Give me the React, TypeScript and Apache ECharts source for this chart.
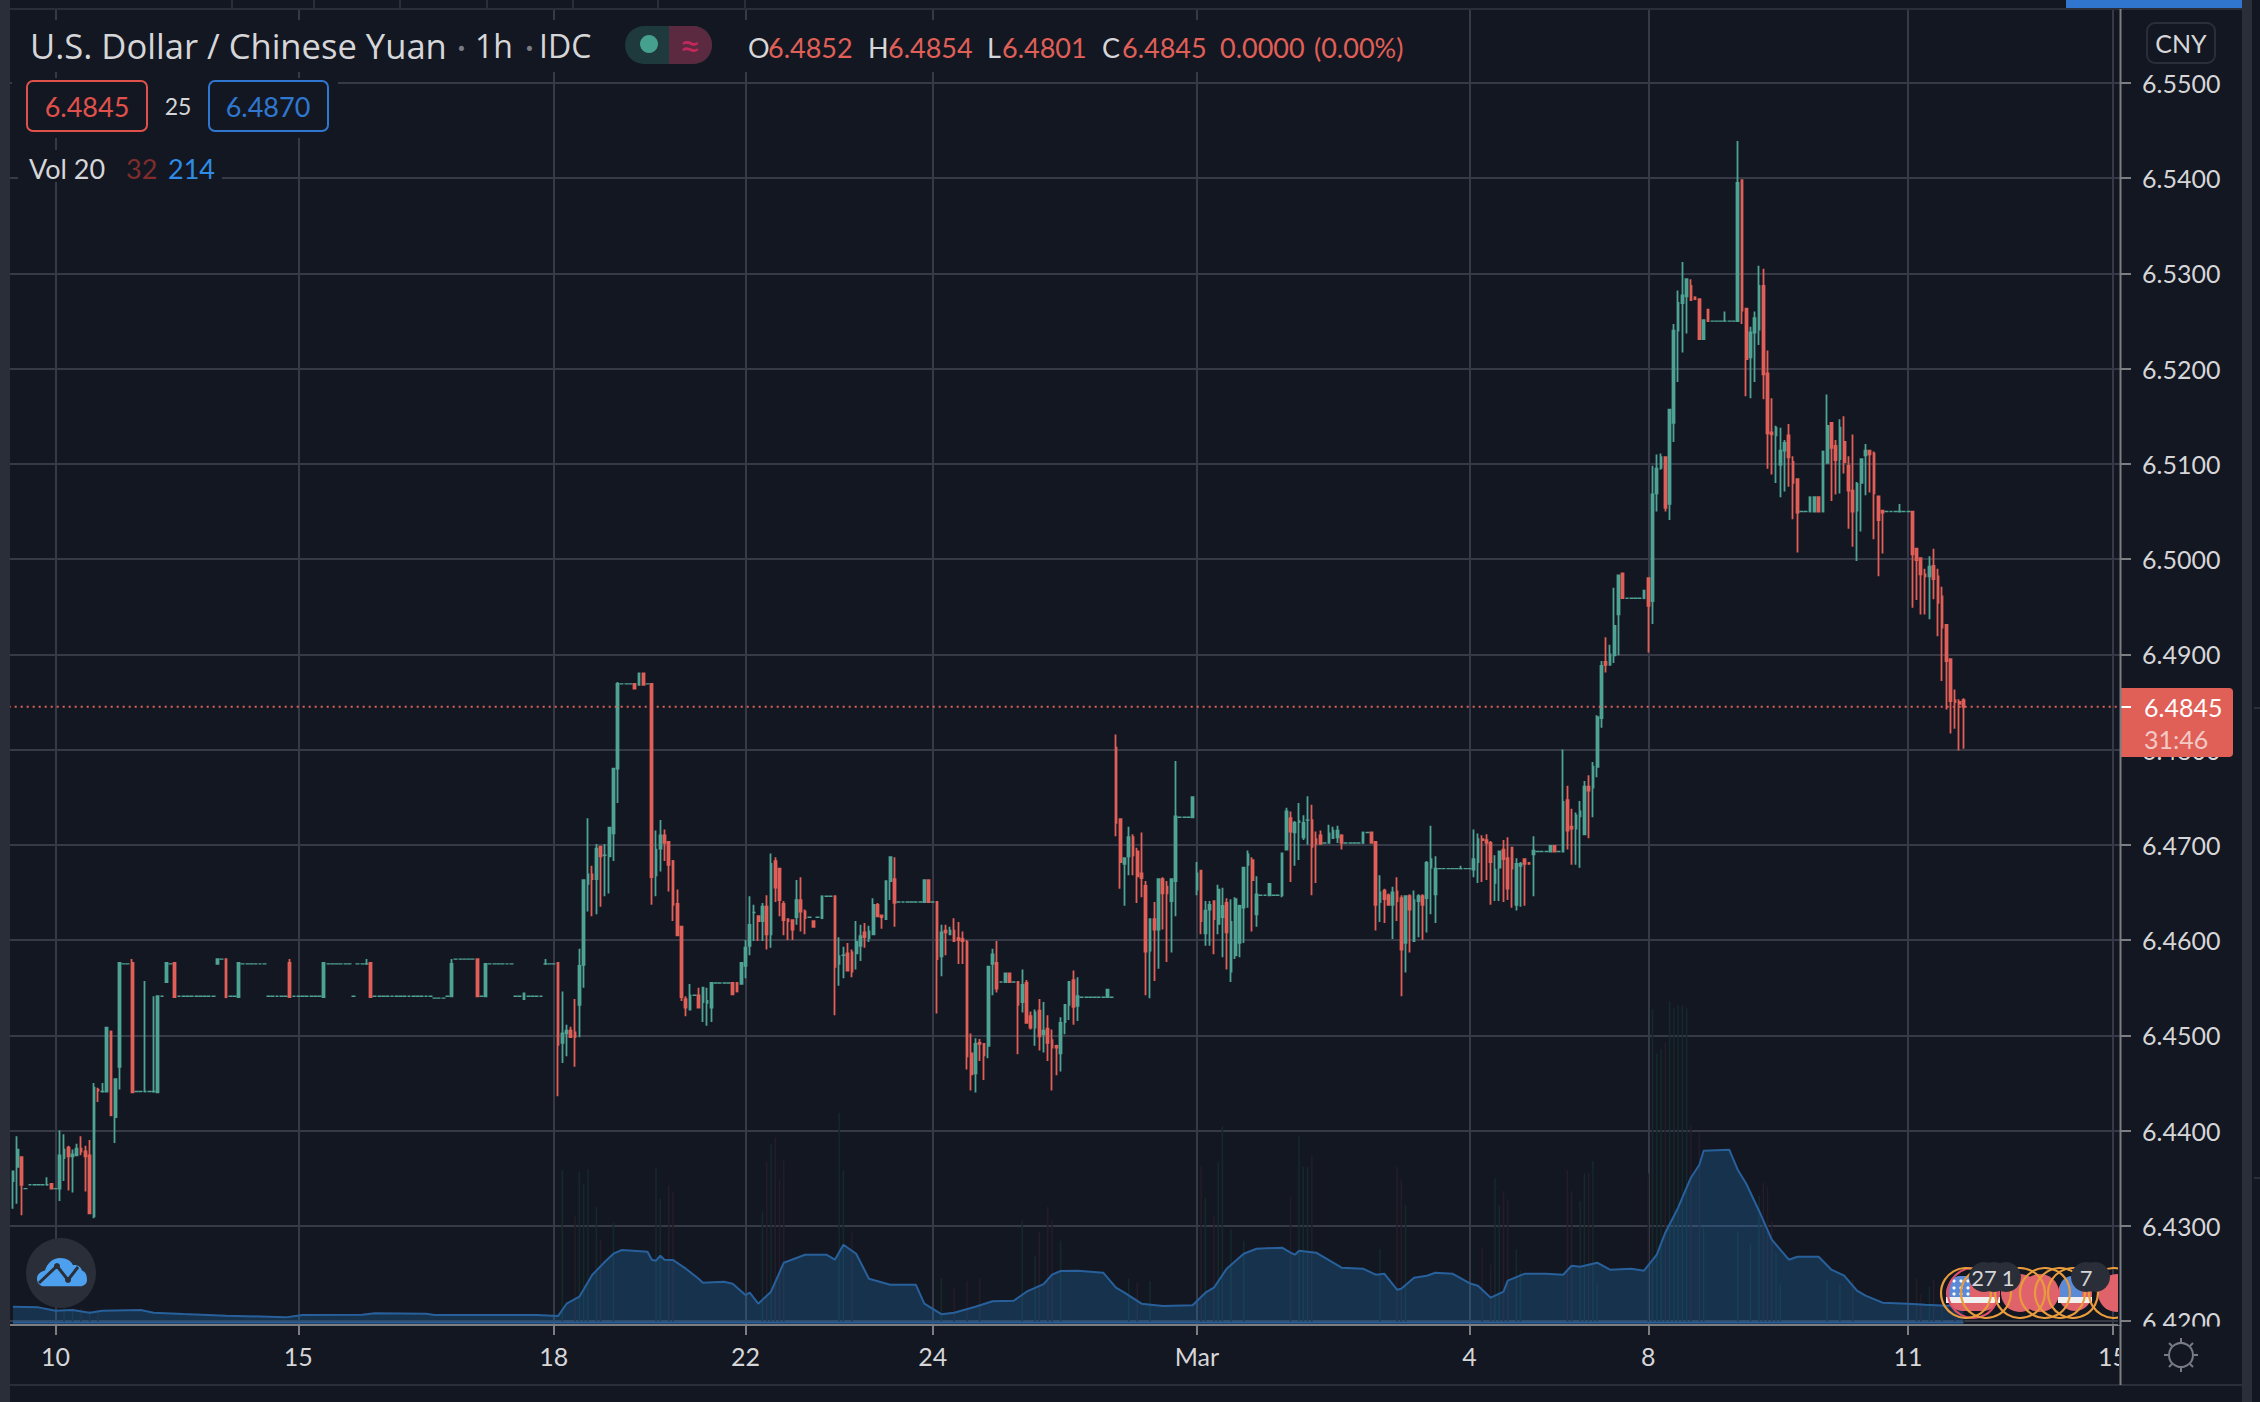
import React, { useEffect, useRef } from "react";
import * as echarts from "echarts";

// Bars are [open, close, low, high] in 1/10000 above 6; a lone number is a bar with no range.
type Bar = number | number[];

const barsBefore10: Bar[] = [[4347,4357,4318,4357],[4362,4380,4323,4394],[4372,4343,4311,4372],4339,4343,4343,4343,4343,[4343,4343,4343,4351],[4344,4339,4339,4344]];

const barsFrom10: Bar[] = [4339,[4339,4374,4326,4400],[4371,4380,4347,4396],[4382,4373,4337,4384],[4373,4375,4335,4380],[4374,4381,4374,4386],[4381,4378,4374,4394],[4378,4373,4336,4384],[4374,4313,4313,4390],[4310,4445,4308,4450],[4443,4442,4430,4445],[4441,4441,4441,4450],[4441,4508,4441,4508],[4504,4416,4416,4504],[4414,4454,4387,4454],[4467,4576,4443,4576],4575,4575,[4576,4440,4440,4580],4441,4441,[4441,4441,4441,4557],4441,[4441,4441,4441,4541],[4440,4541,4440,4541],4541,[4556,4576,4556,4576],4575,[4576,4540,4540,4576],4541,4541,4541,4541,4541,4541,4541,4541,4541,[4575,4580,4575,4580],4580,[4580,4540,4540,4580],4541,4541,[4540,4576,4540,4576],4575,4575,4575,4575,4575,4575,4541,4541,4541,4541,4541,[4576,4540,4540,4580],4541];

const barsFrom15: Bar[] = [4541,4541,4541,4541,4541,4541,[4540,4576,4540,4576],4575,4575,4575,4575,4575,4575,4541,4575,4575,[4575,4575,4575,4580],[4576,4540,4540,4576],4541,4541,4541,4541,4541,4541,4541,4541,4541,4541,4541,4541,4541,4541,4539,4539,4539,4541,[4541,4575,4541,4580],4580,4580,4580,4580,4580,[4580,4541,4541,4580],4541,[4541,4575,4541,4575],4575,4575,4575,4575,4575,4575,4541,4541,[4538,4544,4538,4544],4541,4541,4541,4541,[4575,4575,4575,4580],4575];

const barsFrom18: Bar[] = [4575,[4576,4490,4436,4576],[4492,4502,4471,4546],[4502,4505,4478,4511],[4505,4498,4498,4509],[4503,4498,4467,4538],[4532,4573,4498,4591],[4574,4663,4550,4663],[4659,4669,4630,4728],[4669,4664,4625,4678],[4664,4696,4627,4701],[4698,4688,4635,4698],[4689,4689,4646,4701],[4688,4718,4649,4719],[4712,4780,4683,4780],[4780,4869,4744,4871],4869,4869,4869,[4869,4864,4864,4869],[4868,4880,4868,4880],[4880,4868,4868,4880],4869,[4869,4666,4637,4869],[4668,4695,4646,4715],[4696,4710,4672,4726],[4710,4702,4683,4716],[4703,4679,4651,4703],[4683,4637,4620,4684],[4638,4605,4605,4653],[4614,4540,4536,4614],[4538,4529,4520,4541],[4527,4542,4527,4554],4542,[4542,4529,4529,4550],[4535,4550,4514,4550],[4534,4536,4510,4550],[4529,4555,4514,4555],4555,4555,4555,4555,[4555,4543,4543,4555],[4555,4546,4546,4555],[4554,4576,4554,4576]];

const barsFrom22: Bar[] = [[4573,4592,4560,4600],[4594,4616,4584,4646],[4629,4629,4599,4637],[4625,4620,4599,4625],[4620,4635,4599,4639],[4635,4606,4590,4647],[4606,4680,4592,4691],[4683,4655,4640,4687],[4675,4642,4625,4675],[4638,4621,4605,4641],[4622,4620,4600,4623],[4621,4611,4600,4621],[4624,4642,4616,4663],[4642,4630,4609,4666],[4630,4623,4606,4632],4624,[4620,4614,4614,4620],4624,[4623,4646,4623,4646],4646,4646,[4646,4572,4521,4646],[4575,4583,4552,4603],[4584,4584,4560,4593],[4586,4568,4568,4597],[4587,4567,4561,4590],[4586,4598,4569,4620],[4594,4604,4578,4616],[4608,4603,4592,4618],[4602,4609,4598,4615],[4606,4637,4606,4644],[4637,4625,4625,4639],[4626,4624,4612,4626],[4622,4662,4621,4662],[4662,4687,4642,4687],[4664,4639,4614,4687],4640,4640,4640,4640,4640,4640,[4640,4663,4640,4663],[4663,4640,4640,4663]];

const barsFrom24: Bar[] = [4640,[4640,4580,4523,4640],[4583,4608,4562,4616],[4610,4608,4584,4616],[4606,4610,4606,4614],[4610,4599,4599,4623],[4602,4600,4575,4619],[4601,4599,4575,4609],[4598,4478,4464,4600],[4481,4459,4442,4502],[4460,4491,4440,4497],[4492,4491,4473,4496],[4491,4479,4453,4492],[4489,4572,4476,4573],[4575,4585,4542,4591],[4576,4549,4545,4599],4556,[4556,4565,4556,4565],[4565,4556,4556,4565],4556,[4556,4532,4480,4556],[4535,4553,4524,4569],[4555,4513,4513,4558],[4520,4508,4506,4525],[4508,4524,4489,4527],[4526,4499,4484,4538],[4501,4505,4482,4535],[4507,4492,4473,4521],[4495,4487,4442,4506],[4489,4487,4458,4490],[4481,4513,4462,4519],[4514,4532,4501,4533],[4532,4556,4516,4556],[4558,4530,4511,4568],[4531,4541,4515,4561],4540,4540,4540,4540,4540,4540,[4540,4548,4540,4548],4540,[4802,4723,4709,4816],[4727,4682,4654,4727],[4680,4686,4636,4686],[4688,4708,4668,4719],[4708,4689,4668,4711],[4693,4667,4639,4697],[4670,4665,4645,4713],[4657,4588,4542,4662],[4589,4622,4539,4622],[4622,4611,4557,4640],[4611,4664,4570,4664],[4664,4649,4611,4666],[4656,4649,4577,4662],[4641,4664,4587,4664],[4662,4730,4625,4788],4729,4729,4729,[4729,4750,4729,4750]];

const barsFromMar: Bar[] = [[4653,4670,4647,4682],[4673,4620,4606,4673],[4607,4631,4594,4641],[4632,4637,4594,4641],[4641,4622,4585,4641],[4617,4653,4606,4658],[4624,4636,4582,4655],[4639,4608,4569,4644],[4567,4619,4556,4643],[4584,4643,4580,4645],[4597,4636,4582,4637],[4634,4676,4597,4677],[4679,4690,4634,4694],[4684,4663,4609,4687],[4627,4648,4614,4667],4647,4647,[4647,4659,4647,4659],4647,4647,[4647,4691,4645,4691],[4695,4735,4695,4739],[4728,4714,4661,4735],[4713,4723,4678,4725],[4724,4725,4684,4744],[4708,4723,4705,4731],[4726,4726,4700,4751],[4726,4698,4647,4742],[4706,4701,4660,4714],[4710,4701,4701,4715],4702,[4702,4712,4702,4721],[4707,4715,4707,4719],[4708,4715,4702,4720],[4710,4702,4695,4711],4702,4702,4702,4702,[4702,4713,4702,4713],4713,[4713,4702,4702,4713],[4703,4637,4610,4703],[4640,4650,4619,4668],[4652,4643,4618,4654],[4647,4637,4637,4649],[4637,4650,4601,4656],[4651,4641,4620,4666],[4644,4590,4541,4647],[4597,4646,4566,4647],[4646,4632,4587,4648],[4599,4642,4598,4652],[4641,4646,4603,4648],[4646,4637,4600,4648],[4644,4681,4608,4683],[4676,4685,4627,4720],[4648,4675,4618,4688],4675,4675,4675,4675,4675,[4675,4675,4675,4678],4675];

const barsFrom4: Bar[] = [4675,[4674,4685,4666,4716],[4682,4706,4660,4712],[4706,4705,4661,4710],[4705,4702,4663,4711],[4702,4682,4637,4704],[4660,4674,4641,4689],[4676,4693,4641,4694],[4695,4685,4640,4705],[4686,4654,4642,4708],[4697,4675,4634,4697],[4637,4680,4631,4686],[4678,4680,4635,4682],[4685,4680,4636,4686],[4681,4680,4680,4681],[4690,4694,4646,4709],4693,4693,4693,[4693,4699,4693,4699],[4699,4693,4693,4699],4693,[4693,4745,4693,4800],[4747,4715,4695,4762],[4719,4717,4679,4738],[4717,4731,4679,4734],[4730,4735,4676,4746],[4711,4761,4711,4767],[4761,4757,4707,4773],[4760,4782,4729,4787],[4782,4834,4771,4836],[4833,4888,4823,4893],[4892,4889,4881,4918],[4889,4900,4889,4910],[4899,4930,4891,4970],[4942,4983,4899,4983],[4985,4959,4959,4985],4959,4959,4959,4959,[4959,4967,4959,4967]];

const barsFrom8: Bar[] = [[4980,4951,4902,4980],[4956,5068,4932,5098],[5069,5095,5050,5110],[5096,5107,5094,5111],[5107,5054,5050,5107],[5058,5157,5041,5157],[5143,5240,5123,5247],[5240,5269,5186,5282],[5269,5277,5217,5312],[5276,5294,5237,5295],[5287,5272,5272,5294],[5275,5273,5273,5275],[5273,5231,5231,5273],[5231,5251,5231,5251],[5262,5250,5250,5262],5250,5250,5250,[5250,5250,5250,5260],5250,5250,[5250,5395,5250,5439],[5398,5261,5247,5398],[5263,5210,5171,5263],[5212,5238,5169,5244],[5238,5253,5186,5260],[5241,5287,5225,5308],[5287,5194,5168,5305],[5195,5132,5095,5219],[5133,5131,5089,5169],[5130,5138,5080,5140],[5099,5114,5065,5138],[5114,5122,5071,5125],[5130,5107,5076,5142],[5102,5080,5042,5108],[5084,5049,5007,5085],5050,5050,[5050,5065,5050,5065],[5050,5065,5050,5065],[5065,5050,5050,5065],[5050,5113,5050,5113],[5101,5140,5101,5173],[5143,5117,5061,5143],[5119,5104,5068,5125],[5105,5138,5069,5147],[5123,5102,5090,5150],[5098,5072,5032,5108],[5072,5050,5013,5131],[5051,5079,4998,5081],[5080,5105,5029,5105],[5109,5114,5067,5121],[5114,5110,5070,5114],[5111,5069,5021,5113],[5066,5041,4982,5066],[5051,5049,5006,5052],5050,5050,5050,[5050,5050,5050,5058],5050];

const barsFrom11: Bar[] = [5050,[5050,5005,4949,5050],[5011,4999,4957,5011],[5001,4984,4942,5001],[4984,4982,4942,4990],[4982,4992,4937,5003],[4993,4979,4958,5011],[4982,4954,4919,4990],[4961,4928,4872,4971],[4931,4893,4842,4931],[4895,4851,4817,4895],[4852,4850,4822,4863],[4850,4848,4799,4853],[4852,4845,4801,4854]];

const tickLabels = ["", "10", "15", "18", "22", "24", "Mar", "4", "8", "11"];
const futureTickLabel = "15";

const LAST_PRICE = 6.4845;
const priceLabels = { last: "6.4845", countdown: "31:46", bid: "6.4845", spread: "25", ask: "6.4870" };

// Volume moving average, read at its turning points: hour number and value.
const maHours = [0,6,10,14,18,21,30,33,40,50,60,64,68,82,85,97,99,123,128,130,133,136,139,141,143,149,150,151,152,153,155,158,161,162,167,169,172,173,175,178,181,186,191,193,195,198,201,206,212,214,218,221,226,230,235,238,242,244,246,250,256,259,261,265,270,277,280,282,285,289,292,298,300,301,302,306,312,317,320,322,325,326,329,332,334,338,342,344,347,350,351,355,360,364,366,368,372,375,380,383,386,388,391,394,396,397,403,405,407,410,413,415,417,419,424,427,430,433,435,439,445,449,454,458];
const maValues = [192,184,144,152,120,144,152,120,104,84,72,64,92,96,112,108,92,92,80,228,312,572,732,828,872,852,756,744,804,756,752,648,528,480,492,468,332,360,228,372,720,816,816,756,936,828,528,456,456,228,102,120,192,258,264,372,462,576,620,624,600,420,360,228,200,210,360,420,648,828,888,900,840,816,864,840,660,648,576,588,396,408,540,564,600,588,474,444,300,372,504,588,588,576,684,672,720,636,648,624,816,1080,1380,1740,1896,2064,2076,1836,1668,1344,996,876,756,792,792,636,564,384,324,240,228,216,204,214];

// Volume bars that can be told apart from the background: hour number and value.
const volumeHours = [12,14,16,18,20,129,132,133,134,135,137,138,141,151,152,154,155,176,177,178,179,180,181,194,195,197,218,221,224,227,237,240,241,243,244,246,262,264,267,279,280,282,283,284,286,289,300,302,303,304,305,321,325,326,327,345,347,348,349,350,351,353,354,365,366,368,369,370,371,372,384,385,386,387,388,389,390,391,392,393,394,396,397,405,408,410,411,412,413,414,415,426,429,432,447,448,450,451,453,456,458];
const volumeValues = [190,170,180,150,170,1830,1290,1810,1670,1840,1390,1000,1200,1850,1490,1650,1570,1335,1925,2140,2220,1710,1950,2520,1830,1090,530,420,500,530,1225,800,1090,1390,1225,985,530,480,500,1870,1500,1280,1925,2360,1120,985,1520,2250,1870,1870,2010,880,1870,1710,1415,900,700,1730,1410,1580,1480,880,630,1830,1580,1460,1790,1800,1940,460,1790,3760,3230,3280,3360,3860,3770,3810,3810,3770,2370,2280,1140,1100,940,1520,1680,1630,1220,840,460,520,470,520,530,340,430,520,420,560,32];

const BG = "#131722";
const GRID = "#363a47";
const UP = "#4fa394";
const DOWN = "#e05f57";
const TEXT = "#d6d6d8";
const BAND = "#2a2e39";
const FONT = "Lato";

const LEFT = 8.7;
const SLOTS = 497;
const PLOT_W = 2112.3;
const FUTURE_TICK = 494;

const segments = [barsBefore10, barsFrom10, barsFrom15, barsFrom18, barsFrom22, barsFrom24, barsFromMar, barsFrom4, barsFrom8, barsFrom11];

echarts.graphic.registerShape(
  "tvCloud",
  echarts.graphic.extendPath(
    "M8 40 C2 40 0 35 0 30 C0 25 4 21 8 20 C10 11 16 4 23 4 C30 4 34 8 36 13 C40 12 44 15 45 20 C49 22 50 27 50 32 C50 37 47 40 43 40 Z",
    {}
  )
);

function App() {
  const ref = useRef<HTMLDivElement>(null);

  useEffect(() => {
    document.body.style.margin = "0";
    document.body.style.background = BG;
    const chart = echarts.init(ref.current!, undefined, { renderer: "svg" });

    const blank = ["-", "-", "-", "-"];
    const categories: string[] = ["."];
    const dirs: number[] = [0];
    const ohlc: any[] = [blank];
    const flats: any[] = [blank];
    const ticks = new Set<number>();
    segments.forEach((seg, s) => {
      seg.forEach((b, j) => {
        const bar = typeof b === "number" ? [b, b, b, b] : b;
        const price = bar.map((v) => (v + 60000) / 10000);
        const idx = categories.length;
        if (j === 0 && tickLabels[s]) ticks.add(idx);
        categories.push(j === 0 && tickLabels[s] ? tickLabels[s] : String(idx));
        const ranged = bar[0] !== bar[1] || bar[2] !== bar[3];
        ohlc.push(ranged ? price : blank);
        flats.push(bar[0] === bar[1] ? [price[0], price[0], price[0], price[0]] : blank);
        dirs.push(bar[1] >= bar[0] ? 1 : -1);
      });
    });
    while (categories.length < SLOTS) {
      const idx = categories.length;
      categories.push(idx === FUTURE_TICK ? futureTickLabel : String(idx));
    }
    ticks.add(FUTURE_TICK);
    const isTick = (i: number) => ticks.has(i);

    const volData = volumeHours.map((h, i) => ({
      value: [h + 1, volumeValues[i]],
      itemStyle: { color: dirs[h + 1] >= 0 ? "#15282a" : "#241c26" },
    }));
    const maData = maHours.map((h, i) => [h + 1, maValues[i]]);
    const lastHour = maHours[maHours.length - 1] + 1;

    const hiddenX = (gridIndex: number) => ({
      type: "category" as const, gridIndex, data: categories, boundaryGap: false, show: false,
    });

    const t = (text: string, x: number, y: number, size: number, fill: string, extra: any = {}) => ({
      type: "text", z: extra.z ?? 100, x, y,
      style: { text, fill, font: `${size}px ${extra.font || FONT}`, textAlign: extra.align || "left", textVerticalAlign: "middle" },
    });
    const r = (x: number, y: number, width: number, height: number, fill: string, radius: any = 0, stroke?: string, lineWidth = 2, z = 100) => ({
      type: "rect", z, shape: { x, y, width, height, r: radius },
      style: { fill, stroke, lineWidth },
    });
    const c = (cx: number, cy: number, rad: number, fill: string, z = 100, stroke?: string, lineWidth = 2) => ({
      type: "circle", z, shape: { cx, cy, r: rad }, style: { fill, stroke, lineWidth },
    });
    const l = (x1: number, y1: number, x2: number, y2: number, stroke: string, lineWidth = 2, z = 100) => ({
      type: "line", z, shape: { x1, y1, x2, y2 }, style: { stroke, lineWidth },
    });

    const gearSpokes: any[] = [[0, -17, 0, -13], [0, 13, 0, 17], [-17, 0, -13, 0], [13, 0, 17, 0], [-12, -12, -9, -9], [9, 9, 12, 12], [-12, 12, -9, 9], [9, -9, 12, -12]]
      .map(([a, b, p, q]) => l(2181 + a, 1355 + b, 2181 + p, 1355 + q, "#787b86"));

    const topSeparators = [231, 313, 399, 486, 572, 657, 744].map((x) => r(x, 0, 2, 8, BAND));

    const usFlag = (x0: number, width: number) => [
      { type: "rect", z: 101, shape: { x: x0, y: 1276, width, height: 35, r: 17 }, style: { fill: "#e0636b" } },
      { type: "rect", z: 101, shape: { x: x0, y: 1297, width, height: 6 }, style: { fill: "#f0f0f0" } },
      { type: "rect", z: 101, shape: { x: x0 + 2, y: 1276, width: 22, height: 21, r: [12, 0, 0, 0] }, style: { fill: "#5b8ad6" } },
    ];
    const dots: any[] = [];
    [1954, 1961, 1968].forEach((x) => [1281, 1288, 1294].forEach((y) => dots.push({ type: "circle", z: 102, shape: { cx: x, cy: y, r: 1.6 }, style: { fill: "#fff" } })));

    const rings = [1966, 1986, 2020, 2045, 2060, 2073, 2114].map((x) => ({
      type: "circle", z: 103, shape: { cx: x, cy: 1293, r: 25 }, style: { fill: "none", stroke: "#e89c3c", lineWidth: 2.2 },
    }));

    chart.setOption({
      animation: false,
      backgroundColor: BG,
      textStyle: { fontFamily: FONT },
      grid: [
        { left: LEFT, width: PLOT_W, top: 9, height: 1316 },
        { left: LEFT, width: PLOT_W, top: 83, height: 1238 },
        { left: LEFT, width: PLOT_W, top: 997.7, height: 325 },
      ],
      xAxis: [
        {
          type: "category", gridIndex: 0, data: categories, boundaryGap: false,
          axisLine: { lineStyle: { color: "#7d7e82", width: 2 } },
          axisTick: { show: true, interval: (i: number) => isTick(i), length: 10, lineStyle: { color: "#7d7e82", width: 2 } },
          splitLine: { show: true, interval: (i: number) => isTick(i), lineStyle: { color: GRID, width: 2 } },
          axisLabel: { interval: (i: number) => isTick(i), color: TEXT, fontSize: 25, fontFamily: FONT, margin: 18, hideOverlap: false },
        },
        hiddenX(1),
        hiddenX(2),
      ],
      yAxis: [
        { type: "value", gridIndex: 0, show: false, min: 0, max: 1 },
        {
          type: "value", gridIndex: 1, position: "right", min: 6.42, max: 6.55, interval: 0.01,
          axisLine: { show: false },
          axisTick: { show: true, length: 10, lineStyle: { color: "#7d7e82", width: 2 } },
          splitLine: { show: true, lineStyle: { color: GRID, width: 2 } },
          axisLabel: { color: TEXT, fontSize: 25, fontFamily: FONT, margin: 21, formatter: (v: number) => v.toFixed(4) },
        },
        { type: "value", gridIndex: 2, show: false, min: 0, max: 3900 },
      ],
      series: [
        { type: "bar", name: "Volume", xAxisIndex: 2, yAxisIndex: 2, data: volData, barWidth: 1.6, z: 2, silent: true },
        {
          type: "line", name: "Volume MA 20", xAxisIndex: 2, yAxisIndex: 2, data: maData, showSymbol: false, z: 3, silent: true,
          lineStyle: { color: "#28609c", width: 2 },
          areaStyle: { color: "rgba(40,150,243,0.3)" },
        },
        {
          type: "line", name: "Volume base", xAxisIndex: 2, yAxisIndex: 2, data: [[1, 0], [lastHour, 0]], showSymbol: false, z: 3, silent: true,
          lineStyle: { color: "#28609c", width: 2 },
        },
        {
          type: "candlestick", name: "USD/CNY flat hours", xAxisIndex: 1, yAxisIndex: 1, data: flats, barWidth: 4.4, z: 5, silent: true,
          itemStyle: { color: UP, color0: UP, borderColor: UP, borderColor0: UP, borderColorDoji: UP, borderWidth: 1.4 },
        },
        {
          type: "candlestick", name: "USD/CNY", xAxisIndex: 1, yAxisIndex: 1, data: ohlc, barWidth: 2.2, z: 6, silent: true,
          itemStyle: { color: UP, color0: DOWN, borderColor: UP, borderColor0: DOWN, borderColorDoji: UP, borderWidth: 1.8 },
        },
        {
          type: "line", name: "Last price", xAxisIndex: 1, yAxisIndex: 1, showSymbol: false, z: 7, silent: true,
          data: [[0, LAST_PRICE], [SLOTS - 1, LAST_PRICE]],
          lineStyle: { color: DOWN, type: [2, 4], width: 2 },
        },
      ],
      graphic: [
        // legend backdrops hiding the grid behind the text
        r(12, 20, 1408, 52, BG),
        r(12, 78, 326, 60, BG),
        r(18, 150, 204, 32, BG),
        // frame
        r(0, 0, 10, 1402, BAND),
        r(2242, 0, 10, 1402, BAND),
        r(2119, 1326.5, 123, 57.5, BG),
        r(10, 8, 2232, 2, BAND),
        r(10, 1384, 2232, 2, BAND),
        ...topSeparators,
        r(2066, 0, 176, 8, "#3076cf"),
        r(2254, 707, 6, 2, BAND),
        r(2254, 1177, 6, 2, BAND),
        // title row
        t("U.S. Dollar / Chinese Yuan", 30, 45, 34.6, TEXT, { font: "Open Sans" }),
        t("·", 457, 45, 34, "#787b86"),
        t("1h", 475, 45, 32, TEXT, { font: "Open Sans" }),
        t("·", 525, 45, 34, "#787b86"),
        t("IDC", 539, 45, 32, TEXT, { font: "Open Sans" }),
        { type: "rect", z: 100, shape: { x: 625, y: 26, width: 87, height: 38, r: 19 }, style: { fill: "#1f3a3c" } },
        { type: "rect", z: 100, shape: { x: 669, y: 26, width: 43, height: 38, r: [0, 19, 19, 0] }, style: { fill: "#5b2a40" } },
        c(649, 44, 9, "#45a08e"),
        t("≈", 690, 44, 38, "#c2285c", { align: "center" }),
        t("O", 748, 47, 27, TEXT),
        t("6.4852", 768, 47, 27, DOWN),
        t("H", 868, 47, 27, TEXT),
        t("6.4854", 888, 47, 27, DOWN),
        t("L", 987, 47, 27, TEXT),
        t("6.4801", 1002, 47, 27, DOWN),
        t("C", 1102, 47, 27, TEXT),
        t("6.4845", 1122, 47, 27, DOWN),
        t("0.0000", 1220, 47, 27, DOWN),
        t("(0.00%)", 1314, 47, 27, DOWN),
        // bid / ask row
        r(27, 81, 120, 50, "none", 6, "#e0514b"),
        t(priceLabels.bid, 87, 106, 27, "#e0514b", { align: "center" }),
        t(priceLabels.spread, 178, 106, 23, TEXT, { align: "center" }),
        r(209, 81, 119, 50, "none", 6, "#2f77d0"),
        t(priceLabels.ask, 268, 106, 27, "#2f77d0", { align: "center" }),
        // volume row
        t("Vol 20", 29, 168, 27, TEXT),
        t("32", 126, 168, 27, "#7f2c2c"),
        t("214", 168, 168, 27, "#2f8ce6"),
        // currency box
        r(2147, 23, 68, 40, "none", 8, BAND),
        t("CNY", 2181, 43, 25, TEXT, { align: "center" }),
        // price tag
        r(2120, 688, 113, 69, DOWN, [0, 4, 4, 0]),
        l(2120, 707, 2131, 707, "#ffffff"),
        t(priceLabels.last, 2144, 707, 25, "#ffffff"),
        t(priceLabels.countdown, 2144, 739, 25, "#f3c9c6"),
        // logo
        c(61, 1273, 35, BAND),
        { type: "tvCloud", z: 101, x: 37, y: 1255, scaleY: 0.78, style: { fill: "#4da0ed" } },
        { type: "polyline", z: 102, shape: { points: [[39, 1283], [57, 1266], [68, 1280], [78, 1267]] }, style: { stroke: BAND, lineWidth: 3, fill: "none" } },
        c(57, 1266, 3, BAND, 102),
        c(68, 1280, 3, BAND, 102),
        // gear
        c(2181, 1355, 12, "none", 100, "#787b86"),
        ...gearSpokes,
        // event markers
        ...usFlag(1946, 54),
        c(2020, 1293, 19, "#e0636b", 101),
        c(2040, 1293, 19, "#e0636b", 101),
        ...usFlag(2058, 34),
        c(2117, 1293, 19, "#e0636b", 101),
        ...dots,
        c(1973, 1293, 25, "none", 102, "#e0506a", 2.2),
        ...rings,
        c(1984, 1277, 15, BAND, 104),
        c(1994, 1277, 15, BAND, 104),
        c(2006, 1277, 15, BAND, 104),
        c(2086, 1277, 15, BAND, 104),
        c(2095, 1277, 15, BAND, 104),
        t("27", 1984, 1277, 22, TEXT, { align: "center", z: 105 }),
        t("1", 2008, 1277, 22, TEXT, { align: "center", z: 105 }),
        t("7", 2086, 1277, 22, TEXT, { align: "center", z: 105 }),
        // right edge of the plot cuts the markers off
        r(2118, 1262, 24, 63, BG, 0, undefined, 0, 106),
        l(2121, 1321, 2131, 1321, "#7d7e82", 2, 107),
        l(2120.5, 9, 2120.5, 1385, "#7d7e82", 2, 107),
      ],
    });

    return () => chart.dispose();
  }, []);

  return <div ref={ref} style={{ position: "absolute", left: 0, top: 0, width: 2260, height: 1402 }} />;
}

export default App;
